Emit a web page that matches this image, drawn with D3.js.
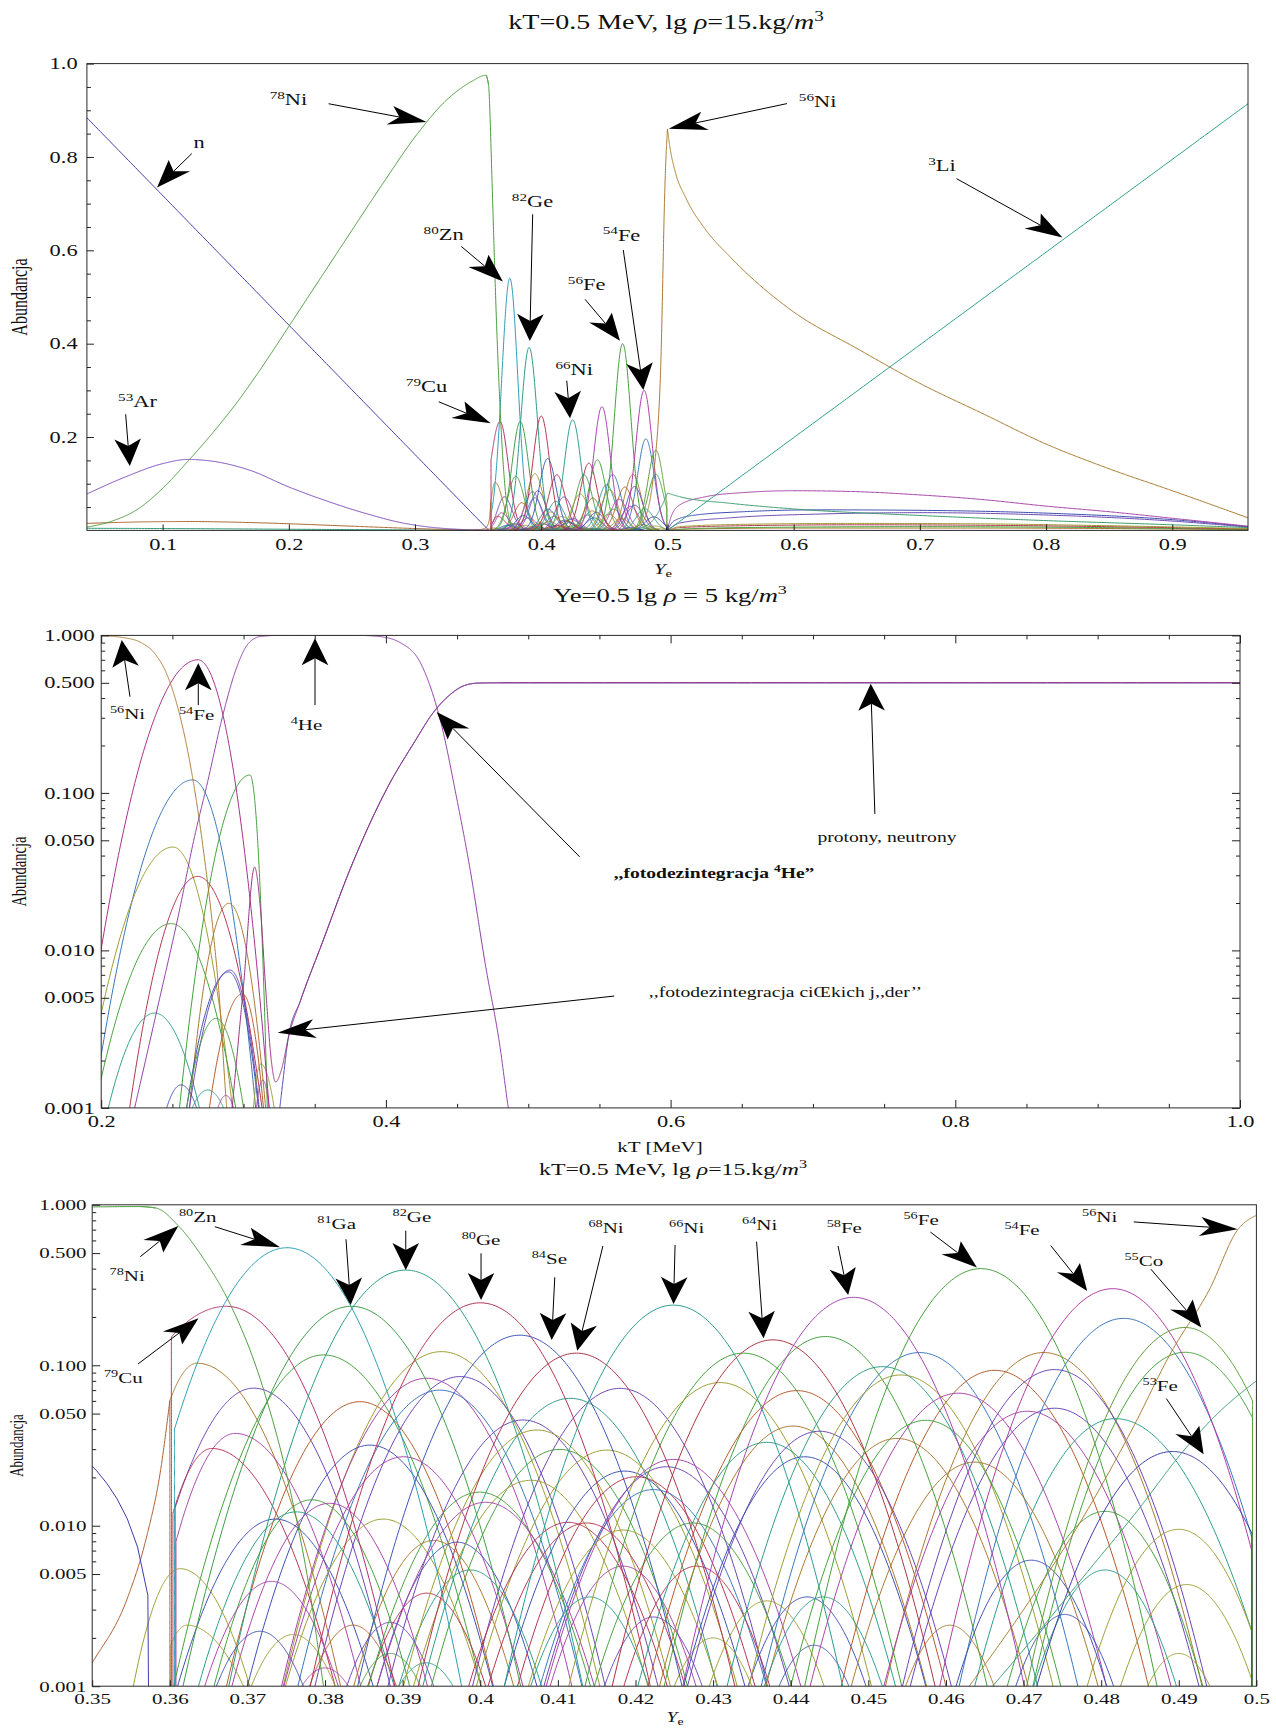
<!DOCTYPE html>
<html>
<head>
<meta charset="utf-8">
<script src="https://cdn.jsdelivr.net/npm/d3@7"></script>
<style>
  body { margin: 0; background: #fff; }
  svg { display: block; }
  text { fill: #111; }
</style>
</head>
<body>
<svg id="fig" width="1276" height="1731"></svg>
<script>
// ---------------------------------------------------------------------------
// Nuclear statistical equilibrium abundances
// ---------------------------------------------------------------------------
const FLOOR = 0.001;           // bottom of the logarithmic panels

// ---- axis ticks ------------------------------------------------------------
const yeTicksMain = [0.1, 0.2, 0.3, 0.4, 0.5, 0.6, 0.7, 0.8, 0.9];
const abTicksMain = [0.2, 0.4, 0.6, 0.8, 1.0];
const abMinorMain = [0.05, 0.1, 0.15, 0.25, 0.3, 0.35, 0.45, 0.5, 0.55, 0.65, 0.7, 0.75, 0.85, 0.9, 0.95];
const ktTicks = [0.2, 0.4, 0.6, 0.8, 1.0];
const ktMinor = [0.25, 0.3, 0.35, 0.45, 0.5, 0.55, 0.65, 0.7, 0.75, 0.85, 0.9, 0.95];
const yeTicksZoom = [0.35, 0.36, 0.37, 0.38, 0.39, 0.40, 0.41, 0.42, 0.43, 0.44, 0.45, 0.46, 0.47, 0.48, 0.49, 0.50];
const logTicks = [0.001, 0.005, 0.01, 0.05, 0.1, 0.5, 1];
const logMinor = [0.002, 0.003, 0.004, 0.006, 0.007, 0.008, 0.009,
                  0.02, 0.03, 0.04, 0.06, 0.07, 0.08, 0.09,
                  0.2, 0.3, 0.4, 0.6, 0.7, 0.8, 0.9];

// ---- Ye sweep, kT = 0.5 MeV, lg rho = 15 : broad curves [Ye, abundance] ----
const neutronsYe = [[0.04, 0.884], [0.3585, 0]];
const li3Ye = [[0.5, 0], [0.96, 0.914]];
const ni78RiseYe = [[0.04, 0.007], [0.06, 0.02], [0.08, 0.045], [0.1, 0.09], [0.12, 0.148], [0.14, 0.21],
  [0.16, 0.278], [0.18, 0.355], [0.2, 0.437], [0.225, 0.54], [0.25, 0.643], [0.275, 0.745], [0.3, 0.843],
  [0.325, 0.922], [0.345, 0.962], [0.3562, 0.975], [0.3582, 0.955]];
const ni78FallYe = [[0.3562, 0.975], [0.3582, 0.955], [0.3611, 0.74], [0.3645, 0.45], [0.3673, 0.267],
  [0.3721, 0.07], [0.3755, 0.0167], [0.378, 0.004], [0.3798, 0.001], [0.381, 0.0004]];
const ar53Ye = [[0.04, 0.078], [0.07, 0.114], [0.1, 0.143], [0.12, 0.152], [0.14, 0.148], [0.17, 0.128],
  [0.2, 0.093], [0.23, 0.063], [0.26, 0.037], [0.29, 0.016], [0.31, 0.0075], [0.33, 0.003], [0.35, 0.0008], [0.36, 0.0003]];
const ni56RiseYe = [[0.463, 0.001], [0.47, 0.003], [0.478, 0.012], [0.484, 0.04], [0.489, 0.12], [0.494, 0.3],
  [0.4976, 0.7], [0.5, 0.86]];
const ni56FallYe = [[0.5, 0.86], [0.502, 0.82], [0.506, 0.77], [0.515, 0.71], [0.53, 0.645], [0.55, 0.585],
  [0.6, 0.468], [0.65, 0.39], [0.7, 0.315], [0.75, 0.25], [0.8, 0.185], [0.85, 0.132], [0.9, 0.085], [0.96, 0.027]];
const brownTailYe = [[0.04, 0.015], [0.08, 0.018], [0.12, 0.019], [0.18, 0.016], [0.25, 0.009], [0.3, 0.004], [0.34, 0.001], [0.36, 0.0002]];
const tealTailYe = [[0.04, 0.0045], [0.1, 0.004], [0.2, 0.0025], [0.3, 0.001], [0.35, 0.0003]];
const brownRiseYe = [[0.3475, 0.0009], [0.35, 0.0014], [0.3545, 0.0035], [0.357, 0.0085], [0.3588, 0.022], [0.36, 0.06]];
const greenRiseYe = [[0.466, 0.001], [0.472, 0.0022], [0.478, 0.005], [0.485, 0.013], [0.49, 0.027], [0.495, 0.05], [0.5, 0.08]];
const greenFallYe = [[0.5, 0.08], [0.51, 0.072], [0.55, 0.058], [0.6, 0.046], [0.7, 0.032], [0.8, 0.021], [0.9, 0.012], [0.96, 0.006]];
const tailMagentaYe = [[0.5, 0], [0.503, 0.03], [0.51, 0.055], [0.53, 0.072], [0.56, 0.081], [0.6, 0.085], [0.65, 0.083],
  [0.7, 0.076], [0.75, 0.066], [0.8, 0.052], [0.85, 0.04], [0.9, 0.026], [0.96, 0.009]];
const tailBlueYe = [[0.5, 0], [0.505, 0.02], [0.52, 0.032], [0.56, 0.04], [0.62, 0.044], [0.7, 0.043], [0.8, 0.037], [0.9, 0.023], [0.96, 0.008]];
const tailSlateYe = [[0.5, 0], [0.51, 0.016], [0.55, 0.027], [0.62, 0.035], [0.7, 0.038], [0.8, 0.033], [0.9, 0.02], [0.96, 0.007]];
const tailOliveYe = [[0.5, 0], [0.51, 0.008], [0.56, 0.013], [0.65, 0.015], [0.75, 0.014], [0.85, 0.01], [0.96, 0.004]];
const tailRedYe = [[0.5, 0], [0.51, 0.006], [0.56, 0.01], [0.65, 0.012], [0.75, 0.011], [0.85, 0.008], [0.96, 0.003]];
const tailGreenYe = [[0.5, 0], [0.52, 0.004], [0.6, 0.007], [0.7, 0.008], [0.8, 0.007], [0.96, 0.002]];
const tailBrownYe = [[0.5, 0], [0.52, 0.003], [0.6, 0.005], [0.75, 0.005], [0.96, 0.0015]];

// ---- Ye sweep: single-isotope peaks ----------------------------------------
// [peak Ye, peak abundance, low-side Ye, abundance there, high-side Ye, abundance there]
// a side value above FLOOR means the curve is cut off steeply at that Ye
const yeNamedPeaks = [
  ['79Cu', 0.3673, 0.233, 0.3602, 0.15, 0.3890, 0.001],
  ['80Zn', 0.3751, 0.540, 0.3606, 0.04, 0.3976, 0.001],
  ['81Ga', 0.3834, 0.233, 0.3617, 0.001, 0.4052, 0.001],
  ['82Ge', 0.3904, 0.392, 0.3676, 0.001, 0.4132, 0.001],
  ['80Ge', 0.4000, 0.245, 0.3781, 0.001, 0.4219, 0.001],
  ['84Se', 0.4051, 0.154, 0.3842, 0.001, 0.4260, 0.001],
  ['68Ni', 0.4124, 0.119, 0.3920, 0.001, 0.4328, 0.001],
  ['66Ni', 0.4249, 0.237, 0.4031, 0.001, 0.4467, 0.001],
  ['64Ni', 0.4377, 0.144, 0.4170, 0.001, 0.4586, 0.001],
  ['58Fe', 0.4481, 0.265, 0.4261, 0.001, 0.4701, 0.001],
  ['56Fe', 0.4645, 0.400, 0.4418, 0.001, 0.4872, 0.001],
  ['54Fe', 0.4815, 0.300, 0.4592, 0.001, 0.4994, 0.007],
  ['55Co', 0.4908, 0.172, 0.4704, 0.001, 0.4995, 0.06],
  ['53Fe', 0.4892, 0.029, 0.4717, 0.001, 0.4994, 0.009]
];
const yePeaksLow = [
  [0.3635, 0.103, 0.3600, 0.06, 0.3820, 0.001], [0.3708, 0.072, 0.3607, 0.013, 0.3884, 0.001],
  [0.3684, 0.0376, 0.3608, 0.008, 0.3846, 0.001], [0.3654, 0.0303, 0.3604, 0.012, 0.3813, 0.001],
  [0.3798, 0.116, 0.3605, 0.001, 0.4001, 0.001], [0.3845, 0.0593, 0.3673, 0.001, 0.4017, 0.001],
  [0.3950, 0.1216, 0.3746, 0.001, 0.4154, 0.001], [0.3931, 0.083, 0.3744, 0.001, 0.4118, 0.001],
  [0.3974, 0.085, 0.3787, 0.001, 0.4161, 0.001], [0.3948, 0.070, 0.3765, 0.001, 0.4131, 0.001],
  [0.3858, 0.0318, 0.3700, 0.001, 0.4016, 0.001], [0.3901, 0.0269, 0.3747, 0.001, 0.4055, 0.001],
  [0.3783, 0.0145, 0.3657, 0.001, 0.3909, 0.001], [0.3763, 0.0122, 0.3637, 0.001, 0.3889, 0.001],
  [0.3806, 0.0138, 0.3680, 0.001, 0.3932, 0.001], [0.3736, 0.0110, 0.3610, 0.001, 0.3862, 0.001],
  [0.3875, 0.0110, 0.3749, 0.001, 0.4001, 0.001], [0.3613, 0.0054, 0.3553, 0.001, 0.3703, 0.001],
  [0.3622, 0.0024, 0.3601, 0.0018, 0.3695, 0.001], [0.3731, 0.0045, 0.3645, 0.001, 0.3817, 0.001],
  [0.3716, 0.0022, 0.3660, 0.001, 0.3772, 0.001], [0.3759, 0.0021, 0.3705, 0.001, 0.3813, 0.001],
  [0.3940, 0.0081, 0.3837, 0.001, 0.4043, 0.001], [0.3970, 0.0079, 0.3867, 0.001, 0.4073, 0.001],
  [0.3931, 0.0038, 0.3855, 0.001, 0.4007, 0.001], [0.3987, 0.0053, 0.3895, 0.001, 0.4079, 0.001],
  [0.3836, 0.0024, 0.3780, 0.001, 0.3892, 0.001], [0.3884, 0.0025, 0.3828, 0.001, 0.3940, 0.001],
  [0.3884, 0.0016, 0.3845, 0.001, 0.3923, 0.001], [0.3930, 0.0014, 0.3895, 0.001, 0.3965, 0.001],
  [0.3800, 0.0013, 0.3770, 0.001, 0.3830, 0.001]
];
const yePeaksMid = [
  [0.4180, 0.0718, 0.3990, 0.001, 0.4370, 0.001], [0.4116, 0.0622, 0.3926, 0.001, 0.4305, 0.001],
  [0.4055, 0.0456, 0.3881, 0.001, 0.4229, 0.001], [0.4073, 0.0395, 0.3901, 0.001, 0.4245, 0.001],
  [0.4163, 0.0296, 0.3995, 0.001, 0.4331, 0.001], [0.4249, 0.0259, 0.4085, 0.001, 0.4413, 0.001],
  [0.4102, 0.0299, 0.3937, 0.001, 0.4267, 0.001], [0.4065, 0.0192, 0.3914, 0.001, 0.4216, 0.001],
  [0.3999, 0.0162, 0.3856, 0.001, 0.4142, 0.001], [0.4007, 0.0140, 0.3867, 0.001, 0.4147, 0.001],
  [0.4113, 0.0105, 0.3985, 0.001, 0.4241, 0.001], [0.4186, 0.0219, 0.4031, 0.001, 0.4341, 0.001],
  [0.4240, 0.0233, 0.4082, 0.001, 0.4398, 0.001], [0.4201, 0.0202, 0.4048, 0.001, 0.4354, 0.001],
  [0.4223, 0.0168, 0.4077, 0.001, 0.4369, 0.001], [0.4137, 0.0104, 0.4010, 0.001, 0.4264, 0.001],
  [0.4184, 0.0094, 0.4062, 0.001, 0.4306, 0.001], [0.4274, 0.0104, 0.4147, 0.001, 0.4401, 0.001],
  [0.4279, 0.0056, 0.4185, 0.001, 0.4373, 0.001], [0.4184, 0.0056, 0.4090, 0.001, 0.4278, 0.001],
  [0.4141, 0.0036, 0.4065, 0.001, 0.4217, 0.001], [0.4223, 0.0027, 0.4160, 0.001, 0.4286, 0.001],
  [0.4369, 0.0034, 0.4295, 0.001, 0.4443, 0.001], [0.4421, 0.0036, 0.4345, 0.001, 0.4497, 0.001],
  [0.4300, 0.0020, 0.4250, 0.001, 0.4350, 0.001], [0.4430, 0.0018, 0.4385, 0.001, 0.4475, 0.001],
  [0.4339, 0.119, 0.4135, 0.001, 0.4543, 0.001], [0.4309, 0.078, 0.4114, 0.001, 0.4504, 0.001],
  [0.4445, 0.151, 0.4237, 0.001, 0.4653, 0.001], [0.4408, 0.0695, 0.4216, 0.001, 0.4600, 0.001],
  [0.4403, 0.0418, 0.4231, 0.001, 0.4575, 0.001], [0.4369, 0.0331, 0.4203, 0.001, 0.4535, 0.001],
  [0.4437, 0.0388, 0.4267, 0.001, 0.4607, 0.001], [0.4418, 0.0269, 0.4262, 0.001, 0.4574, 0.001]
];
const yePeaksHigh = [
  [0.4566, 0.120, 0.4362, 0.001, 0.4770, 0.001], [0.4518, 0.098, 0.4318, 0.001, 0.4718, 0.001],
  [0.4542, 0.087, 0.4346, 0.001, 0.4738, 0.001], [0.4663, 0.093, 0.4465, 0.001, 0.4861, 0.001],
  [0.4726, 0.120, 0.4522, 0.001, 0.4930, 0.001], [0.4740, 0.094, 0.4544, 0.001, 0.4936, 0.001],
  [0.4616, 0.067, 0.4425, 0.001, 0.4807, 0.001], [0.4740, 0.054, 0.4554, 0.001, 0.4926, 0.001],
  [0.4705, 0.0517, 0.4520, 0.001, 0.4890, 0.001], [0.4574, 0.0454, 0.4400, 0.001, 0.4748, 0.001],
  [0.4818, 0.0465, 0.4637, 0.001, 0.4994, 0.0022], [0.4537, 0.035, 0.4368, 0.001, 0.4706, 0.001],
  [0.4637, 0.0249, 0.4478, 0.001, 0.4796, 0.001], [0.4829, 0.196, 0.4617, 0.001, 0.4994, 0.0085],
  [0.4908, 0.1205, 0.4712, 0.001, 0.4995, 0.047], [0.4805, 0.0123, 0.4679, 0.001, 0.4931, 0.001],
  [0.4900, 0.0095, 0.4782, 0.001, 0.4994, 0.0022], [0.4710, 0.0061, 0.4613, 0.001, 0.4807, 0.001],
  [0.4805, 0.0053, 0.4713, 0.001, 0.4897, 0.001], [0.4910, 0.0043, 0.4825, 0.001, 0.4994, 0.0011],
  [0.4753, 0.0028, 0.4690, 0.001, 0.4816, 0.001], [0.4605, 0.0024, 0.4548, 0.001, 0.4662, 0.001],
  [0.4442, 0.0036, 0.4366, 0.001, 0.4518, 0.001], [0.4900, 0.0016, 0.4860, 0.001, 0.4940, 0.001]
];

// ---- kT sweep, Ye = 0.5, lg rho = 5 : curves [kT MeV, abundance] -----------
const ni56Kt = [[0.2, 0.995], [0.215, 0.97], [0.228, 0.9], [0.238, 0.76], [0.246, 0.57], [0.253, 0.37],
  [0.26, 0.2], [0.266, 0.1], [0.272, 0.042], [0.278, 0.015], [0.283, 0.005], [0.2875, 0.0012], [0.289, 0.0008]];
const he4Kt = [[0.2235, 0.001], [0.24, 0.0045], [0.255, 0.018], [0.265, 0.05], [0.275, 0.12], [0.285, 0.3],
  [0.295, 0.62], [0.303, 0.88], [0.312, 0.985], [0.325, 1.0], [0.38, 1.0], [0.395, 0.985], [0.41, 0.9],
  [0.425, 0.65], [0.4386, 0.28], [0.45, 0.09], [0.4587, 0.0345], [0.47, 0.008], [0.48, 0.0025], [0.486, 0.001], [0.49, 0.0006]];
const protonsKt = [[0.292, 0.001], [0.3, 0.006], [0.3078, 0.0338], [0.3115, 0.02], [0.316, 0.005], [0.3195, 0.002],
  [0.3225, 0.00146], [0.327, 0.0018], [0.3315, 0.0028], [0.34, 0.0048], [0.355, 0.011], [0.375, 0.033],
  [0.4013, 0.109], [0.42, 0.21], [0.4329, 0.32], [0.445, 0.42], [0.455, 0.48], [0.465, 0.498], [0.48, 0.5], [1.0, 0.5]];
const neutronsKt = [[0.3235, 0.0007], [0.3265, 0.0012], [0.3315, 0.0028], [0.34, 0.0048], [0.355, 0.011], [0.375, 0.033],
  [0.4013, 0.109], [0.42, 0.21], [0.4329, 0.32], [0.445, 0.42], [0.455, 0.48], [0.465, 0.498], [0.48, 0.5], [1.0, 0.5]];
const ktNamedPeaks = [['54Fe', 0.2680, 0.700, 0.199, 0.009, 0.3180, 0.001]];
const ktPeaks = [
  [0.2643, 0.121, 0.199, 0.0019, 0.3085, 0.001], [0.3045, 0.130, 0.2550, 0.001, 0.3167, 0.001],
  [0.2504, 0.0453, 0.199, 0.0036, 0.2922, 0.001], [0.2678, 0.0295, 0.2200, 0.001, 0.3130, 0.001],
  [0.2492, 0.0148, 0.199, 0.0014, 0.2945, 0.001], [0.2376, 0.0040, 0.2050, 0.001, 0.2690, 0.001],
  [0.2897, 0.0199, 0.2620, 0.001, 0.3155, 0.001], [0.2905, 0.0075, 0.2620, 0.001, 0.3110, 0.001],
  [0.2895, 0.0073, 0.2600, 0.001, 0.3105, 0.001], [0.2992, 0.0053, 0.2760, 0.001, 0.3140, 0.001],
  [0.2806, 0.0037, 0.2600, 0.001, 0.3000, 0.001], [0.2561, 0.0014, 0.2460, 0.001, 0.2670, 0.001],
  [0.2748, 0.0013, 0.2640, 0.001, 0.2860, 0.001], [0.2876, 0.0012, 0.2820, 0.001, 0.2930, 0.001],
  [0.3120, 0.0019, 0.3070, 0.001, 0.3215, 0.001], [0.3135, 0.0015, 0.3090, 0.001, 0.3180, 0.001]
];

// ---- annotations: [mass number, symbol, label x, label y, tail x, tail y, tip x, tip y] (data units)
const yeMainNotes = [
  ['78', 'Ni', 0.1997, 0.911, 0.2315, 0.914, 0.3091, 0.8747],
  ['', 'n', 0.1288, 0.819, 0.1231, 0.8072, 0.0956, 0.7346],
  ['82', 'Ge', 0.3931, 0.6928, 0.3932, 0.6772, 0.3909, 0.4057],
  ['80', 'Zn', 0.3226, 0.6221, 0.3366, 0.6084, 0.3696, 0.5334],
  ['54', 'Fe', 0.4636, 0.6208, 0.4650, 0.6007, 0.4809, 0.3008],
  ['56', 'Fe', 0.4360, 0.5150, 0.4347, 0.4950, 0.4624, 0.4064],
  ['66', 'Ni', 0.4261, 0.3329, 0.4202, 0.3207, 0.4228, 0.2401],
  ['79', 'Cu', 0.3091, 0.2964, 0.3188, 0.2755, 0.3599, 0.2296],
  ['53', 'Ar', 0.0801, 0.2643, 0.0707, 0.2487, 0.0740, 0.1380],
  ['56', 'Ni', 0.6190, 0.9070, 0.5947, 0.9143, 0.5010, 0.8607],
  ['3', 'Li', 0.7175, 0.7690, 0.7290, 0.7536, 0.8130, 0.6275]
];
const ktNotes = [
  ['56', 'Ni', 0.2185, 0.293, 0.2202, 0.408, 0.2144, 0.935],
  ['54', 'Fe', 0.2670, 0.290, 0.2682, 0.361, 0.2682, 0.665],
  ['4', 'He', 0.3442, 0.251, 0.3502, 0.361, 0.3502, 0.959]
];
const ktTextNotes = [
  { parts: [[',,fotodezintegracja ', 'b'], ['4', 'bsup'], ['He\u201D', 'b']], at: [0.6305, 0.0288], tail: [0.5361, 0.0393], tip: [0.4357, 0.3264] },
  { parts: [['protony, neutrony', '']], at: [0.752, 0.0489], tail: [0.7435, 0.0735], tip: [0.7406, 0.494] },
  { parts: [[',,fotodezintegracja ci\u0152kich j,,der\u2019\u2019', '']], at: [0.6807, 0.00506], tail: [0.5604, 0.00513], tip: [0.3239, 0.003] }
];
const yeZoomNotes = [
  ['80', 'Zn', 0.3636, 0.781, 0.3658, 0.7304, 0.3742, 0.5434],
  ['78', 'Ni', 0.3545, 0.335, 0.3562, 0.475, 0.3611, 0.738],
  ['79', 'Cu', 0.3540, 0.0776, 0.3559, 0.1019, 0.3637, 0.196],
  ['81', 'Ga', 0.3815, 0.706, 0.3827, 0.61, 0.3833, 0.2375],
  ['82', 'Ge', 0.3912, 0.781, 0.3904, 0.69, 0.3904, 0.392],
  ['80', 'Ge', 0.4001, 0.5616, 0.4001, 0.4986, 0.4001, 0.255],
  ['84', 'Se', 0.4089, 0.4306, 0.4096, 0.3533, 0.4092, 0.1437],
  ['68', 'Ni', 0.4162, 0.67, 0.4158, 0.5536, 0.4125, 0.1232],
  ['66', 'Ni', 0.4266, 0.67, 0.4251, 0.5616, 0.4249, 0.241],
  ['64', 'Ni', 0.4360, 0.697, 0.4356, 0.589, 0.4365, 0.1473],
  ['58', 'Fe', 0.4469, 0.67, 0.4461, 0.5536, 0.4474, 0.274],
  ['56', 'Fe', 0.4568, 0.748, 0.4580, 0.676, 0.4640, 0.407],
  ['54', 'Fe', 0.4698, 0.648, 0.4735, 0.557, 0.4782, 0.29],
  ['56', 'Ni', 0.4798, 0.781, 0.4842, 0.782, 0.4976, 0.705],
  ['55', 'Co', 0.4855, 0.416, 0.4864, 0.397, 0.4929, 0.172],
  ['53', 'Fe', 0.4876, 0.069, 0.4884, 0.062, 0.4932, 0.0279]
];

// ---------------------------------------------------------------------------
// styling
// ---------------------------------------------------------------------------
const SERIF = '"Liberation Serif", "Times New Roman", Times, serif';
const SX = 1.4;   // horizontal widening applied to all lettering and arrowheads
const HUE = {
  b: '#3d4fb2', g: '#45a03c', m: '#a844a8', r: '#b3344f', n: '#a9782f', t: '#2c9c88',
  c: '#2e9fb6', o: '#9d9c30', p: '#6b44b6', s: '#b55a2c', l: '#3b77bb', v: '#3b3ba8'
};
const namedHue = {
  '79Cu': '#b3306e', '80Zn': '#2e9fb6', '81Ga': '#3f9c48', '82Ge': '#2c9c84', '80Ge': '#b3344f',
  '84Se': '#3d58b2', '68Ni': '#b0344a', '66Ni': '#2a9c90', '64Ni': '#aa3440', '58Fe': '#a444b2',
  '56Fe': '#46a03c', '54Fe': '#b03ca6', '55Co': '#5c9c36', '53Fe': '#3b3ba8'
};
const yeLowHues = 'npmrgsomplbmgtmbooombonbrtspgtm';
const yeMidHues = 'ptpoomgogmrbprlrogrmtpobobgogsntpb';
const yeHighHues = 'ltosnpmpmgtnnlggobtobnto';
const ktHues = 'lgorgtnpbsgbtmom';
const palette = Object.values(HUE);
const hueOf = (s, i) => HUE[s[i]] || palette[i % palette.length];

// ---------------------------------------------------------------------------
// curve sampling: a path is laid out in a helper space (linear or log in y),
// then its segments are subdivided and mapped back to data values so that the
// same curve can be shown on both linear and logarithmic panels.
// ---------------------------------------------------------------------------
function flatten(draw, space) {
  const hx = d3.scaleLinear().domain([0, 1]).range([0, 20000]);
  const hy = space === 'log'
    ? d3.scaleLog().domain([1e-7, 1]).range([7000, 0])
    : d3.scaleLinear().domain([0, 1]).range([7000, 0]);
  const out = [];
  let cx = 0, cy = 0;
  const put = (px, py) => out.push([hx.invert(px), hy.invert(py)]);
  const ctx = {
    moveTo(px, py) { cx = px; cy = py; put(px, py); },
    lineTo(px, py) {
      const n = 240;
      for (let i = 1; i <= n; i++) put(cx + (px - cx) * i / n, cy + (py - cy) * i / n);
      cx = px; cy = py;
    },
    quadraticCurveTo(ax, ay, px, py) {
      const n = 90;
      for (let i = 1; i <= n; i++) {
        const t = i / n, u = 1 - t;
        put(u * u * cx + 2 * u * t * ax + t * t * px, u * u * cy + 2 * u * t * ay + t * t * py);
      }
      cx = px; cy = py;
    },
    bezierCurveTo(ax, ay, bx, by, px, py) {
      const n = 50;
      for (let i = 1; i <= n; i++) {
        const t = i / n, u = 1 - t;
        put(u * u * u * cx + 3 * u * u * t * ax + 3 * u * t * t * bx + t * t * t * px,
            u * u * u * cy + 3 * u * u * t * ay + 3 * u * t * t * by + t * t * t * py);
      }
      cx = px; cy = py;
    },
    closePath() {}
  };
  draw(ctx, hx, hy);
  return out;
}

// a peak is an arch that is parabolic in log(abundance) on each side of its maximum
function peakPoints(row) {
  const [px, pv, lx, lv, rx, rv] = row;
  return flatten((ctx, hx, hy) => {
    const X = hx(px), Y = hy(pv), L = hx(lx), R = hx(rx);
    if (lv > FLOOR) { ctx.moveTo(L, hy(FLOOR)); ctx.lineTo(L, hy(lv)); }
    else ctx.moveTo(L, hy(lv));
    ctx.quadraticCurveTo((L + X) / 2, Y, X, Y);
    ctx.quadraticCurveTo((X + R) / 2, Y, R, hy(rv));
    if (rv > FLOOR) ctx.lineTo(R, hy(FLOOR));
  }, 'log');
}

function curvePoints(pts, space, curve) {
  return flatten((ctx, hx, hy) => {
    d3.line().x(d => hx(d[0])).y(d => hy(d[1])).curve(curve).context(ctx)(pts);
  }, space);
}

// ---- series lists: [sampled points, colour] --------------------------------
const mono = d3.curveMonotoneX;
const yeSeries = [];
[[tailBrownYe, HUE.n], [tailGreenYe, HUE.g], [tailRedYe, HUE.r], [tailOliveYe, HUE.o],
 [tailSlateYe, '#6a4ab2'], [tailBlueYe, '#3b4bb0'], [tailMagentaYe, '#a53fa5'],
 [tealTailYe, '#2e9a7a'], [brownTailYe, '#a8642e']]
  .forEach(([d, c]) => yeSeries.push([curvePoints(d, 'lin', mono), c]));
yePeaksLow.forEach((r, i) => yeSeries.push([peakPoints(r), hueOf(yeLowHues, i)]));
yePeaksMid.forEach((r, i) => yeSeries.push([peakPoints(r), hueOf(yeMidHues, i)]));
yePeaksHigh.forEach((r, i) => yeSeries.push([peakPoints(r), hueOf(yeHighHues, i)]));
yeNamedPeaks.forEach(r => yeSeries.push([peakPoints(r.slice(1)), namedHue[r[0]]]));
yeSeries.push([curvePoints(brownRiseYe, 'log', mono), '#a85a2c']);
yeSeries.push([curvePoints(greenRiseYe, 'log', mono), '#3a9c6c']);
yeSeries.push([curvePoints(greenFallYe, 'lin', mono), '#3a9c6c']);
yeSeries.push([curvePoints(ar53Ye, 'lin', mono), '#7a48b8']);
yeSeries.push([curvePoints(neutronsYe, 'lin', d3.curveLinear), '#3d3daa']);
yeSeries.push([curvePoints(ni78RiseYe, 'lin', mono), '#4a9a3c']);
yeSeries.push([curvePoints(ni78FallYe, 'log', mono), '#4a9a3c']);
yeSeries.push([curvePoints(ni56RiseYe, 'log', mono), '#a97a30']);
yeSeries.push([curvePoints(ni56FallYe, 'lin', mono), '#a97a30']);
yeSeries.push([curvePoints(li3Ye, 'lin', d3.curveLinear), '#2e9e88']);

const ktSeries = [];
ktPeaks.forEach((r, i) => ktSeries.push([peakPoints(r), hueOf(ktHues, i)]));
ktNamedPeaks.forEach(r => ktSeries.push([peakPoints(r.slice(1)), '#a8308e']));
ktSeries.push([curvePoints(ni56Kt, 'log', mono), '#a97a30']);
ktSeries.push([curvePoints(he4Kt, 'log', mono), '#8f3da6']);
ktSeries.push([curvePoints(neutronsKt, 'log', mono), '#4b43b0']);
ktSeries.push([curvePoints(protonsKt, 'log', mono), '#9a3282']);

// ---------------------------------------------------------------------------
// drawing
// ---------------------------------------------------------------------------
const svg = d3.select('#fig');
let clipCount = 0;

function makePanel(box, xDomain, logY, yDomain) {
  const x = d3.scaleLinear().domain(xDomain).range([box.l, box.r]);
  const y = (logY ? d3.scaleLog() : d3.scaleLinear()).domain(yDomain).range([box.b, box.t]);
  const id = 'plotclip' + (++clipCount);
  svg.append('clipPath').attr('id', id).append('rect')
    .attr('x', box.l).attr('y', box.t).attr('width', box.r - box.l).attr('height', box.b - box.t);
  const plot = svg.append('g').attr('clip-path', `url(#${id})`);
  return { x, y, plot, box };
}

function drawSeries(P, list) {
  const line = d3.line().x(d => P.x(d[0])).y(d => P.y(d[1] > 1e-12 ? d[1] : 1e-12));
  list.forEach(([pts, color]) => {
    P.plot.append('path').attr('d', line(pts)).attr('fill', 'none')
      .attr('stroke', color).attr('stroke-width', 1).attr('stroke-linejoin', 'round');
  });
}

function styleAxis(g, fs) {
  g.attr('font-family', SERIF).attr('font-size', fs).attr('color', '#222');
  g.select('.domain').remove();
  g.selectAll('line').attr('stroke-width', 1);
}

function axis(P, side, vals, size, fmt, fs, pad) {
  const b = P.box;
  const maker = { bottom: d3.axisBottom(P.x), top: d3.axisTop(P.x), left: d3.axisLeft(P.y), right: d3.axisRight(P.y) }[side];
  const tr = { bottom: `translate(0,${b.b})`, top: `translate(0,${b.t})`, left: `translate(${b.l},0)`, right: `translate(${b.r},0)` }[side];
  const g = svg.append('g').attr('transform', tr)
    .call(maker.tickValues(vals).tickSize(-size).tickPadding(pad || 0).tickFormat(fmt || (() => '')));
  styleAxis(g, fs || 10);
  if (fmt) {
    const t = g.selectAll('text').attr('transform', `scale(${SX},1)`);
    if (side === 'left') t.attr('x', -(pad || 0) / SX);
  }
  return g;
}

function frame(P) {
  const [x0, x1] = P.x.range(), [y0, y1] = P.y.range();
  svg.append('rect').attr('x', x0).attr('y', y1).attr('width', x1 - x0).attr('height', y0 - y1)
    .attr('fill', 'none').attr('stroke', '#2a2a2a').attr('stroke-width', 1);
}

// rich text: parts are [string, kind] with kind among '', 'i', 'b', 'sup', 'sub', 'bsup'
function richText(cx, cy, fs, parts, anchor) {
  const t = svg.append('text').attr('font-family', SERIF).attr('font-size', fs)
    .attr('text-anchor', anchor || 'middle')
    .attr('transform', `translate(${cx},${cy}) scale(${SX},1)`);
  let shift = 0;
  parts.forEach(([s, kind]) => {
    const ts = t.append('tspan').text(s);
    let target = 0;
    if (kind.includes('sup')) { ts.attr('font-size', fs * 0.68); target = -fs * 0.4; }
    if (kind === 'sub') { ts.attr('font-size', fs * 0.7); target = fs * 0.2; }
    if (kind === 'i') ts.attr('font-style', 'italic');
    if (kind.startsWith('b')) ts.attr('font-weight', 'bold');
    if (target !== shift) { ts.attr('dy', target - shift); shift = target; }
  });
  return t;
}

function yLabel(x, y, fs) {
  svg.append('text').attr('font-family', SERIF).attr('font-size', fs).attr('text-anchor', 'middle')
    .attr('transform', `translate(${x},${y}) scale(${SX},1) rotate(-90)`).text('Abundancja');
}

function arrow(P, tail, tip) {
  const x0 = P.x(tail[0]), y0 = P.y(tail[1]), x1 = P.x(tip[0]), y1 = P.y(tip[1]);
  const ux = (x1 - x0) / SX, uy = y1 - y0, len = Math.hypot(ux, uy);
  const dx = ux / len, dy = uy / len, nx = -dy, ny = dx;
  const L = 27, W = 9.5, N = 7;
  const local = [[0, 0], [-dx * L + nx * W, -dy * L + ny * W], [-dx * (L - N), -dy * (L - N)], [-dx * L - nx * W, -dy * L - ny * W]];
  const poly = local.map(p => [x1 + p[0] * SX, y1 + p[1]]);
  svg.append('line').attr('x1', x0).attr('y1', y0)
    .attr('x2', x1 - dx * (L - N) * SX).attr('y2', y1 - dy * (L - N))
    .attr('stroke', '#000').attr('stroke-width', 1);
  svg.append('path').attr('d', 'M' + poly.map(p => p.join(',')).join('L') + 'Z').attr('fill', '#000');
}

function isotopeNotes(P, notes, fs) {
  notes.forEach(([mass, sym, lx, ly, tx, ty, px, py]) => {
    const parts = mass ? [[mass, 'sup'], [sym, '']] : [[sym, '']];
    richText(P.x(lx), P.y(ly), fs, parts);
    arrow(P, [tx, ty], [px, py]);
  });
}

const titleParts = [['kT=0.5 MeV, lg ', ''], ['\u03C1', 'i'], ['=15.kg/', ''], ['m', 'i'], ['3', 'sup']];

// ---- panel 1: Ye sweep, linear ----------------------------------------------
const P1 = makePanel({ l: 86.9, r: 1248, t: 63.6, b: 530.4 }, [0.04, 0.96], false, [0, 1]);
drawSeries(P1, yeSeries);
frame(P1);
axis(P1, 'bottom', yeTicksMain, 6, d3.format('.1f'), 16, 8.2);
axis(P1, 'left', abTicksMain, 7, d3.format('.1f'), 16, 9.3);
axis(P1, 'left', abMinorMain, 4);
richText(666, 28.6, 20, titleParts);
richText(663, 574, 15, [['Y', 'i'], ['e', 'sub']]);
yLabel(26.5, 297, 16);
isotopeNotes(P1, yeMainNotes, 16);

// ---- panel 2: kT sweep, logarithmic -----------------------------------------
const P2 = makePanel({ l: 101.2, r: 1240, t: 635.4, b: 1107.9 }, [0.2, 1.0], true, [0.001, 1]);
drawSeries(P2, ktSeries);
frame(P2);
axis(P2, 'bottom', ktTicks, 8, d3.format('.1f'), 16, 7.5);
axis(P2, 'bottom', ktMinor, 4);
axis(P2, 'top', ktTicks, 8);
axis(P2, 'top', ktMinor, 4);
axis(P2, 'left', logTicks, 8, d3.format('.3f'), 16, 6.5);
axis(P2, 'left', logMinor, 4);
axis(P2, 'right', logTicks, 8);
axis(P2, 'right', logMinor, 4);
richText(670, 602, 19, [['Ye=0.5 lg ', ''], ['\u03C1', 'i'], [' = 5 kg/', ''], ['m', 'i'], ['3', 'sup']]);
richText(660, 1152, 15, [['kT [MeV]', '']]);
yLabel(25.5, 871.6, 14.5);
isotopeNotes(P2, ktNotes, 15);
ktTextNotes.forEach(n => {
  richText(P2.x(n.at[0]), P2.y(n.at[1]), 14, n.parts);
  arrow(P2, n.tail, n.tip);
});

// ---- panel 3: Ye sweep, logarithmic close-up ---------------------------------
const P3 = makePanel({ l: 92.2, r: 1256.4, t: 1204.8, b: 1686.2 }, [0.35, 0.5], true, [0.001, 1]);
drawSeries(P3, yeSeries);
frame(P3);
axis(P3, 'bottom', yeTicksZoom, 6, d => String(+d.toFixed(2)), 15, 7);
axis(P3, 'left', logTicks, 8, d3.format('.3f'), 15, 5.7);
axis(P3, 'left', logMinor, 4);
richText(673, 1174.5, 17, titleParts);
richText(675, 1722, 14, [['Y', 'i'], ['e', 'sub']]);
yLabel(22.5, 1445.5, 13);
isotopeNotes(P3, yeZoomNotes, 15);
</script>
</body>
</html>
